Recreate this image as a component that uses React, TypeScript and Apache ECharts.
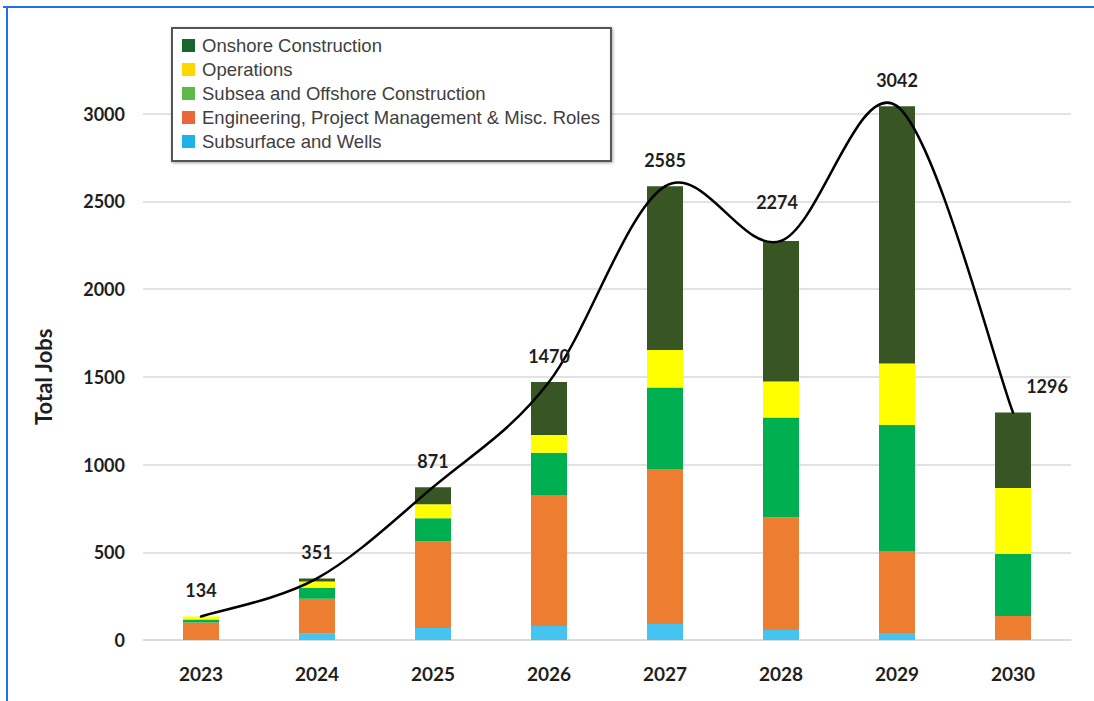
import React, { useEffect, useRef } from "react";
import * as echarts from "echarts";

const years = ["2023", "2024", "2025", "2026", "2027", "2028", "2029", "2030"];
const subsurfaceWells = [0, 35, 68, 80, 91, 57, 40, 0];
const engineering = [100, 200, 495, 746, 884, 643, 467, 137];
const subseaOffshore = [17, 63, 131, 241, 464, 568, 718, 353];
const operations = [17, 35, 80, 101, 214, 205, 351, 376];
const onshore = [0, 18, 97, 302, 932, 801, 1466, 430];
const totals = [134, 351, 871, 1470, 2585, 2274, 3042, 1296];
const yTicks = [0, 500, 1000, 1500, 2000, 2500, 3000];

const NAMES = {
  onshore: "Onshore Construction",
  ops: "Operations",
  subsea: "Subsea and Offshore Construction",
  eng: "Engineering, Project Management & Misc. Roles",
  wells: "Subsurface and Wells",
};

export default function App() {
  const ref = useRef<HTMLDivElement>(null);
  useEffect(() => {
    if (!ref.current) return;
    const chart = echarts.init(ref.current, null, { renderer: "svg" });
    const labelFont = "Lato, 'Open Sans', sans-serif";
    const n = totals.length;
    const barBase = {
      type: "bar",
      stack: "jobs",
      barWidth: 36,
      clip: false,
    };
    const labelShift = (i: number) => {
      if (i === 5) return [-4, -39];
      if (i === 7) return [34, -27];
      return [0, -26];
    };
    chart.setOption({
      animation: false,
      backgroundColor: "#ffffff",
      grid: { left: 143, right: 23, top: 113.5, bottom: 61, containLabel: false },
      graphic: [
        { type: "rect", shape: { x: 3, y: 6, width: 1094, height: 2 }, style: { fill: "#1f6fef" } },
        { type: "rect", shape: { x: 6, y: 6, width: 2, height: 701 }, style: { fill: "#1f6fef" } },
      ],
      legend: {
        orient: "vertical",
        left: 172,
        top: 28,
        padding: [8, 11, 10, 10],
        itemWidth: 13,
        itemHeight: 13,
        itemGap: 5,
        icon: "rect",
        borderColor: "#555555",
        borderWidth: 2,
        backgroundColor: "#ffffff",
        shadowBlur: 3,
        shadowColor: "rgba(0,0,0,0.35)",
        shadowOffsetX: 1,
        shadowOffsetY: 1,
        textStyle: {
          fontFamily: "'Liberation Sans', Arial, sans-serif",
          fontSize: 18.5,
          lineHeight: 17,
          color: "#404040",
          padding: [0, 0, 0, 2],
        },
        data: [
          { name: NAMES.onshore, itemStyle: { color: "#17672d" } },
          { name: NAMES.ops, itemStyle: { color: "#ffd700" } },
          { name: NAMES.subsea, itemStyle: { color: "#5bb947" } },
          { name: NAMES.eng, itemStyle: { color: "#e8683a" } },
          { name: NAMES.wells, itemStyle: { color: "#1cb4e6" } },
        ],
      },
      xAxis: {
        type: "category",
        data: years,
        axisLine: { show: true, lineStyle: { color: "#d9d9d9", width: 1.5 } },
        axisTick: { show: false },
        axisLabel: {
          margin: 24,
          fontFamily: labelFont,
          fontWeight: "bold",
          fontSize: 19,
          color: "#1f1f1f",
        },
      },
      yAxis: {
        type: "value",
        min: yTicks[0],
        max: yTicks[yTicks.length - 1],
        interval: 500,
        name: "Total Jobs",
        nameLocation: "middle",
        nameGap: 89,
        nameTextStyle: {
          fontFamily: labelFont,
          fontWeight: "bold",
          fontSize: 22,
          color: "#1f1f1f",
        },
        axisLine: { show: false },
        axisTick: { show: false },
        axisLabel: {
          margin: 18,
          fontFamily: labelFont,
          fontWeight: "bold",
          fontSize: 18,
          color: "#1f1f1f",
          formatter: (v: number) => String(v),
        },
        splitLine: { show: true, lineStyle: { color: "#d9d9d9", width: 1.5 } },
      },
      series: [
        { ...barBase, name: NAMES.wells, data: subsurfaceWells, itemStyle: { color: "#45c4f2" } },
        { ...barBase, name: NAMES.eng, data: engineering, itemStyle: { color: "#ed7d31" } },
        { ...barBase, name: NAMES.subsea, data: subseaOffshore, itemStyle: { color: "#00b050" } },
        { ...barBase, name: NAMES.ops, data: operations, itemStyle: { color: "#ffff00" } },
        { ...barBase, name: NAMES.onshore, data: onshore, itemStyle: { color: "#375623" } },
        {
          type: "custom",
          name: "Total",
          data: totals.map((v, i) => [i, v]),
          encode: { x: 0, y: 1 },
          clip: false,
          z: 5,
          silent: true,
          renderItem: (params: any, api: any) => {
            const i = params.dataIndex;
            const P = (k: number) => {
              const c = Math.max(0, Math.min(n - 1, k));
              return api.coord([c, totals[c]]);
            };
            const p1 = P(i);
            const shift = labelShift(i);
            const children: any[] = [];
            if (i < n - 1) {
              const p0 = P(i - 1);
              const p2 = P(i + 1);
              const p3 = P(i + 2);
              const t = 1 / 6;
              children.push({
                type: "bezierCurve",
                shape: {
                  x1: p1[0],
                  y1: p1[1],
                  x2: p2[0],
                  y2: p2[1],
                  cpx1: p1[0] + (p2[0] - p0[0]) * t,
                  cpy1: p1[1] + (p2[1] - p0[1]) * t,
                  cpx2: p2[0] - (p3[0] - p1[0]) * t,
                  cpy2: p2[1] - (p3[1] - p1[1]) * t,
                },
                style: { stroke: "#000000", lineWidth: 2.5, fill: "none", lineCap: "round" },
              });
            }
            children.push({
              type: "text",
              x: p1[0] + shift[0],
              y: p1[1] + shift[1],
              z2: 10,
              style: {
                text: String(totals[i]),
                fontFamily: labelFont,
                fontWeight: "bold",
                fontSize: 18,
                fill: "#1f1f1f",
                align: "center",
                verticalAlign: "middle",
              },
            });
            return { type: "group", children };
          },
        },
      ],
    });
    return () => chart.dispose();
  }, []);
  return (
    <div
      ref={ref}
      style={{ position: "absolute", left: 0, top: 0, width: 1094, height: 701, background: "#fff" }}
    />
  );
}
